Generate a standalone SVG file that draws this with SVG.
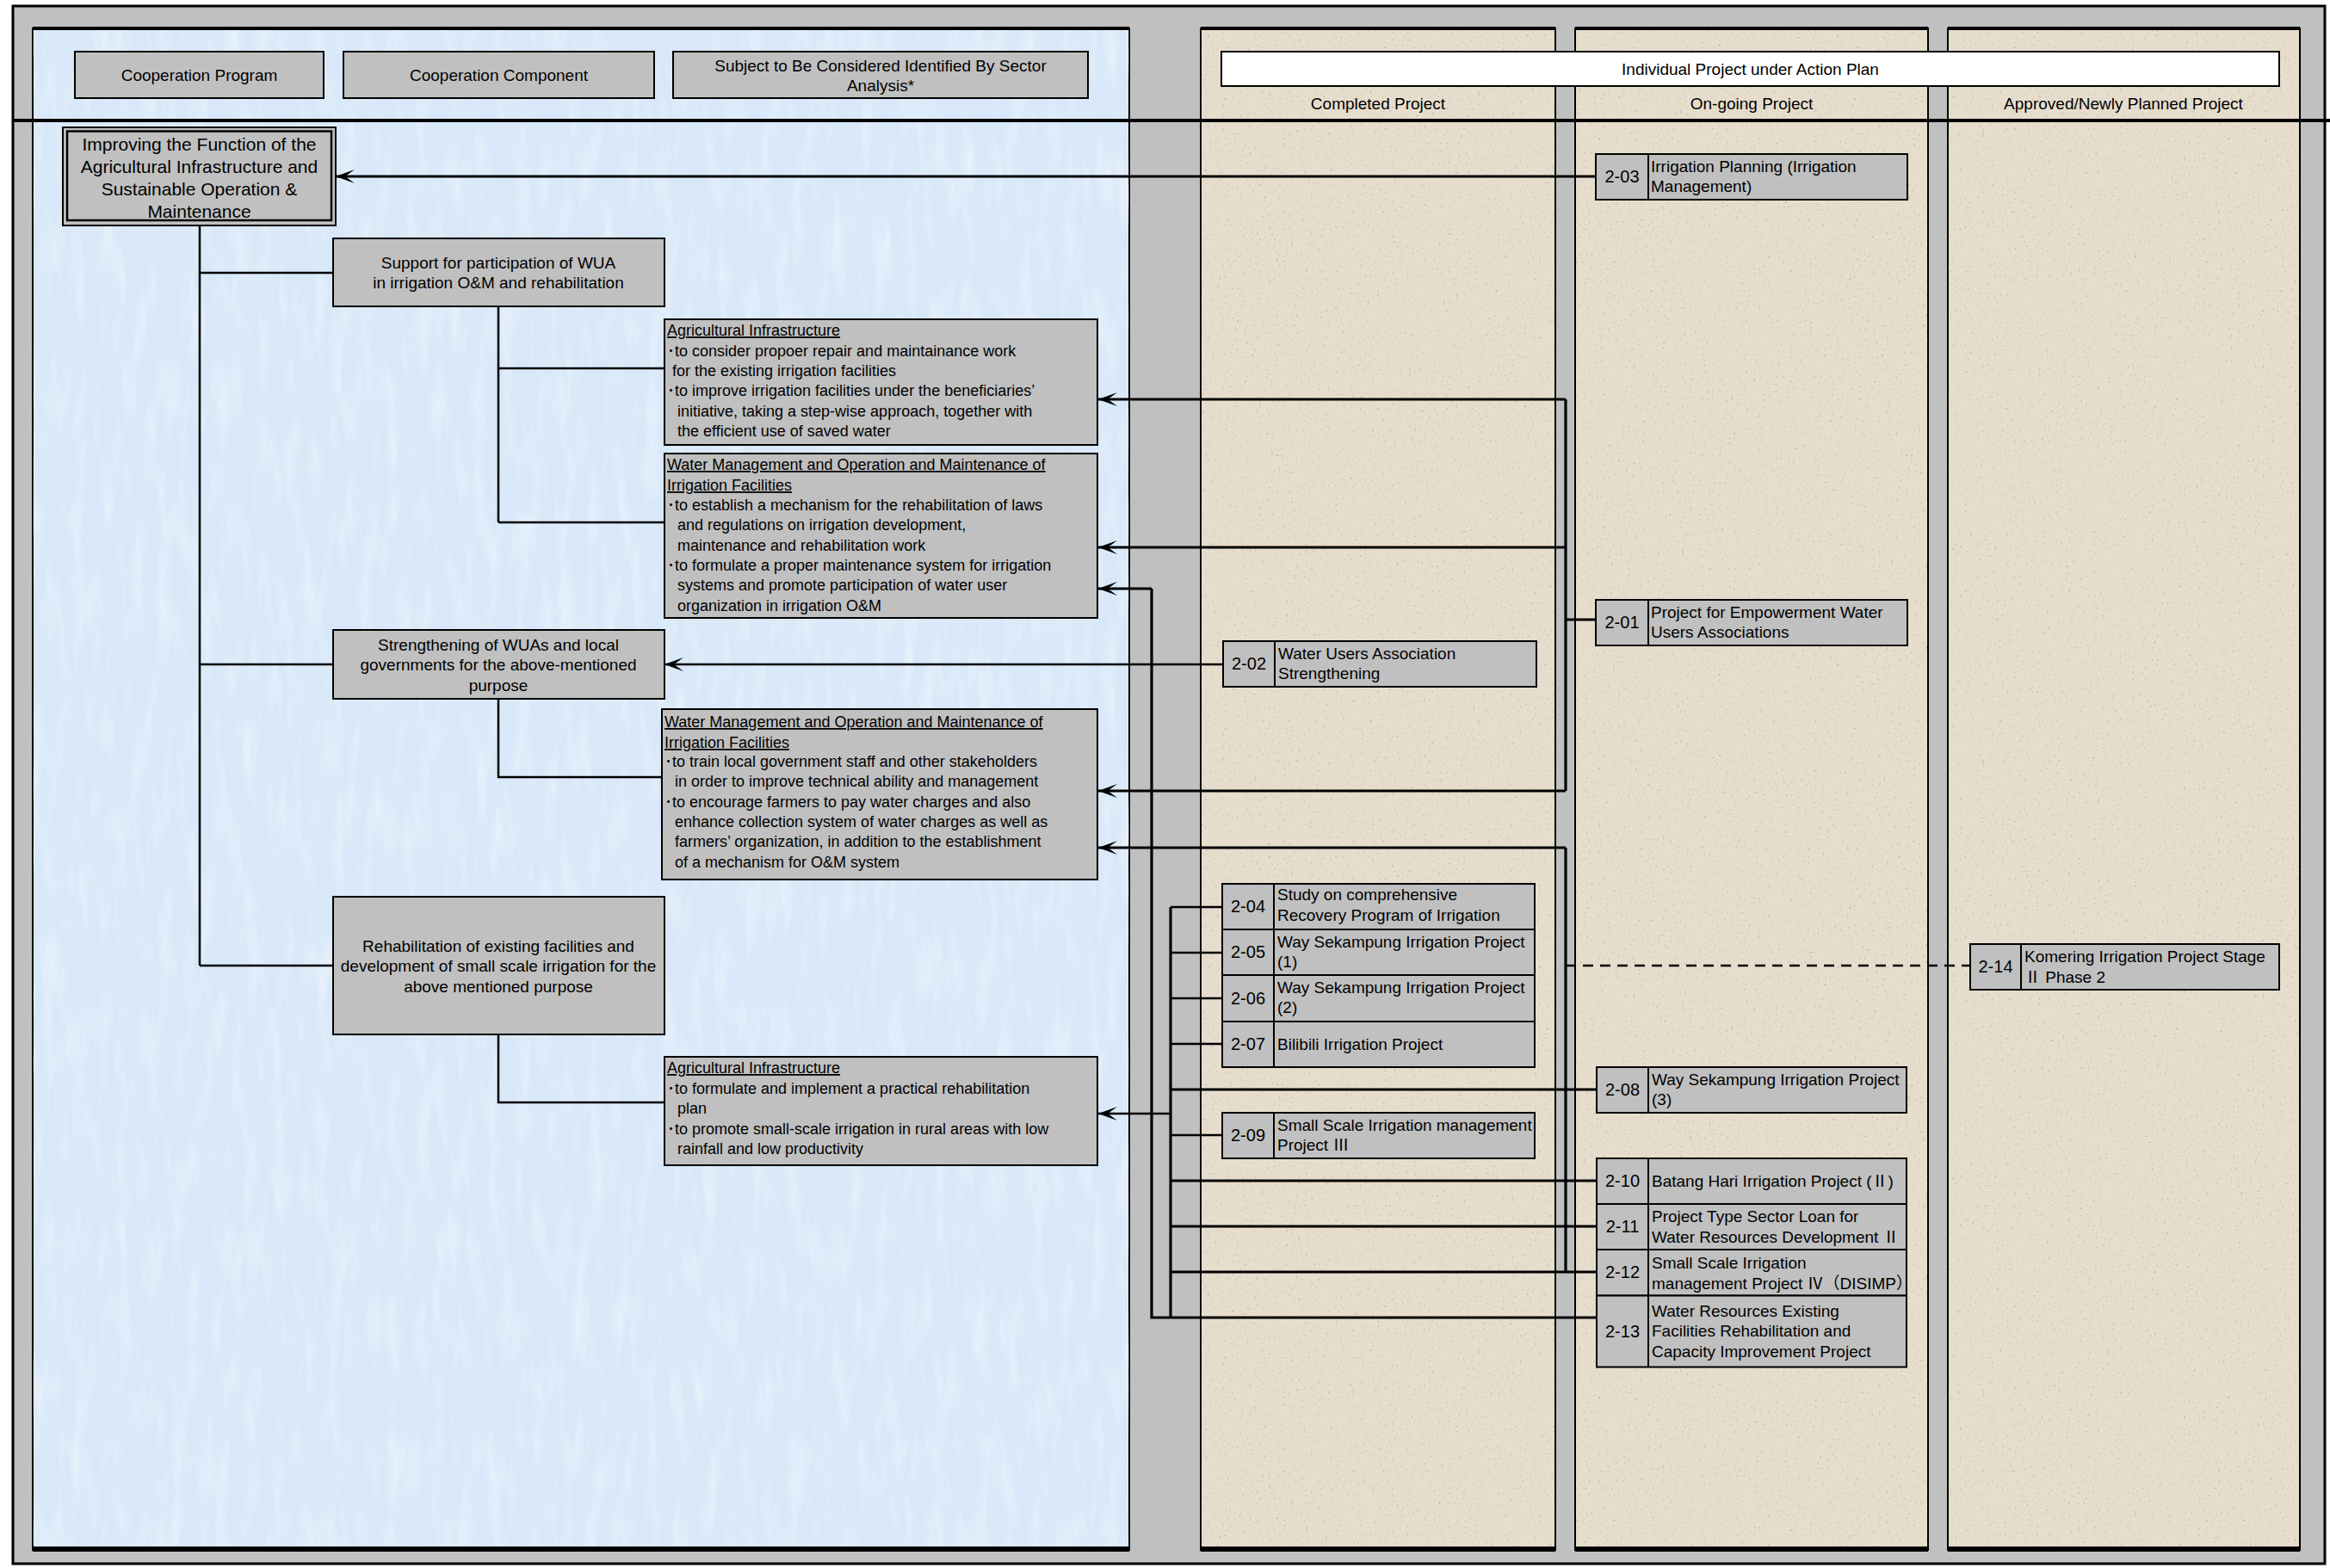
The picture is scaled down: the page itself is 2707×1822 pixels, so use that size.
<svg xmlns="http://www.w3.org/2000/svg" width="2707" height="1822" viewBox="0 0 2707 1822">
<style>
text{font-family:"Liberation Sans","Noto Sans CJK JP",sans-serif;fill:#000}
.box{fill:#c0c0c0;stroke:#000;stroke-width:2}
.hd{font-size:19px;text-anchor:middle}
.ct{font-size:19px;text-anchor:middle}
.bt{font-size:18px}
.u{text-decoration:underline}
.pn{font-size:20px;text-anchor:middle}
.pt{font-size:19px}
.thin{fill:none;stroke:#000;stroke-width:2.5}
.thick{fill:none;stroke:#000;stroke-width:3.2}
.dash{fill:none;stroke:#000;stroke-width:2.5;stroke-dasharray:12 8}
.div{stroke:#000;stroke-width:2}
</style>
<defs>
<marker id="arr" markerUnits="userSpaceOnUse" markerWidth="28" markerHeight="20" refX="24" refY="10" orient="auto">
<path d="M2,2 L24,10 L2,18 L13,10 Z" fill="#000"/>
</marker>
<filter id="noise" x="0" y="0" width="100%" height="100%" color-interpolation-filters="sRGB">
<feTurbulence type="fractalNoise" baseFrequency="0.06 0.012" numOctaves="3" seed="7"/>
<feColorMatrix type="matrix" values="0 0 0 0 1  0 0 0 0 1  0 0 0 0 1  1.6 0 0 0 -0.72"/>
</filter>
<filter id="speck" x="0" y="0" width="100%" height="100%" color-interpolation-filters="sRGB">
<feTurbulence type="fractalNoise" baseFrequency="0.35" numOctaves="2" seed="3"/>
<feColorMatrix type="matrix" values="0 0 0 0 0.45  0 0 0 0 0.4  0 0 0 0 0.35  -3 0 0 0 1.05"/>
</filter>
</defs>

<rect x="0" y="0" width="2707" height="1822" fill="#fff"/>
<rect id="frame" x="15" y="7" width="2686" height="1810" fill="#c0c0c0" stroke="#000" stroke-width="3"/>

<g id="panels">
<rect x="38" y="33" width="1274" height="1768" fill="#d8e8f8" stroke="#000" stroke-width="2"/>
<rect x="38" y="33" width="1274" height="1768" fill="#fff" filter="url(#noise)" opacity="0.55"/>
<rect x="1395" y="33" width="412" height="1768" fill="#e7ddcd" stroke="#000" stroke-width="2"/>
<rect x="1830" y="33" width="410" height="1768" fill="#e7ddcd" stroke="#000" stroke-width="2"/>
<rect x="2263" y="33" width="409" height="1768" fill="#e7ddcd" stroke="#000" stroke-width="2"/>
<rect x="1395" y="33" width="412" height="1768" fill="#fff" filter="url(#speck)" opacity="0.5"/>
<rect x="1830" y="33" width="410" height="1768" fill="#fff" filter="url(#speck)" opacity="0.5"/>
<rect x="2263" y="33" width="409" height="1768" fill="#fff" filter="url(#speck)" opacity="0.5"/>
<g fill="#000">
<rect x="38" y="31" width="1274" height="4"/>
<rect x="1395" y="31" width="412" height="4"/>
<rect x="1830" y="31" width="410" height="4"/>
<rect x="2263" y="31" width="409" height="4"/>
<rect x="38" y="1797" width="1274" height="6"/>
<rect x="1395" y="1797" width="412" height="6"/>
<rect x="1830" y="1797" width="410" height="6"/>
<rect x="2263" y="1797" width="409" height="6"/>
</g>
<line x1="15" y1="140" x2="2707" y2="140" stroke="#000" stroke-width="4"/>
</g>

<g id="headers">
<g id="h-program"><rect class="box" x="87" y="60" width="289" height="54"/><text class="hd" x="231.5" y="94">Cooperation Program</text></g>
<g id="h-component"><rect class="box" x="399" y="60" width="361" height="54"/><text class="hd" x="579.5" y="94">Cooperation Component</text></g>
<g id="h-subject"><rect class="box" x="782" y="60" width="482" height="54"/><text class="hd" x="1023" y="83">Subject to Be Considered Identified By Sector</text><text class="hd" x="1023" y="106">Analysis*</text></g>
<g id="h-individual"><rect x="1419" y="60" width="1229" height="40" fill="#fff" stroke="#000" stroke-width="2"/><text class="hd" x="2033.5" y="87">Individual Project under Action Plan</text></g>
<text class="hd" x="1601" y="127">Completed Project</text>
<text class="hd" x="2035" y="127">On-going Project</text>
<text class="hd" x="2467" y="127">Approved/Newly Planned Project</text>
</g>

<g id="connectors">
<path class="thin" d="M232,262 V1122 M232,317 H387 M232,772 H387 M232,1122 H387"/>
<path class="thin" d="M579,356 V607 M579,428 H772 M579,607 H772"/>
<path class="thin" d="M579,812 V903 H769"/>
<path class="thin" d="M579,1202 V1281 H772"/>
<path class="thick" d="M1854,205 H390" marker-end="url(#arr)"/>
<path class="thin" d="M1421,772 H772" marker-end="url(#arr)"/>
<path class="thick" d="M1854,720 H1819 M1819,464 V919"/>
<path class="thick" d="M1819,464 H1276" marker-end="url(#arr)"/>
<path class="thick" d="M1819,636 H1276" marker-end="url(#arr)"/>
<path class="thick" d="M1819,919 H1276" marker-end="url(#arr)"/>
<path class="thick" d="M1819,985 V1478"/>
<path class="thick" d="M1819,985 H1276" marker-end="url(#arr)"/>
<path class="dash" d="M1819,1122 H2289"/>
<path class="thick" d="M1338,684 V1531 H1855"/>
<path class="thick" d="M1338,684 H1276" marker-end="url(#arr)"/>
<path class="thick" d="M1360,1054 V1531"/>
<path class="thin" d="M1360,1054 H1420 M1360,1107 H1420 M1360,1160 H1420 M1360,1213 H1420 M1360,1319 H1420"/>
<path class="thick" d="M1360,1266 H1855 M1360,1372 H1855 M1360,1425 H1855 M1360,1478 H1855"/>
<path class="thin" d="M1360,1294 H1276" marker-end="url(#arr)"/>
</g>

<g id="goal">
<rect class="box" x="73" y="148" width="317" height="114"/>
<rect x="78" y="152.5" width="307" height="103.5" fill="none" stroke="#000" stroke-width="2.5"/>
<text class="ct" style="font-size:21px" x="231.5" y="175">Improving the Function of the</text>
<text class="ct" style="font-size:21px" x="231.5" y="201">Agricultural Infrastructure and</text>
<text class="ct" style="font-size:21px" x="231.5" y="227">Sustainable Operation &amp;</text>
<text class="ct" style="font-size:21px" x="231.5" y="253">Maintenance</text>
</g>

<g id="support">
<rect class="box" x="387" y="277" width="385" height="79"/>
<text class="ct" x="579" y="312">Support for participation of WUA</text>
<text class="ct" x="579" y="335">in irrigation O&amp;M and rehabilitation</text>
</g>

<g id="strengthening">
<rect class="box" x="387" y="732" width="385" height="80"/>
<text class="ct" x="579" y="756">Strengthening of WUAs and local</text>
<text class="ct" x="579" y="779">governments for the above-mentioned</text>
<text class="ct" x="579" y="803">purpose</text>
</g>

<g id="rehabilitation">
<rect class="box" x="387" y="1042" width="385" height="160"/>
<text class="ct" x="579" y="1106">Rehabilitation of existing facilities and</text>
<text class="ct" x="579" y="1129">development of small scale irrigation for the</text>
<text class="ct" x="579" y="1153">above mentioned purpose</text>
</g>

<g id="agri1">
<rect class="box" x="772" y="371" width="503" height="146"/>
<text class="bt u" x="775" y="390">Agricultural Infrastructure</text>
<text class="bt" x="775" y="414">･to consider propoer repair and maintainance work</text>
<text class="bt" x="781" y="437">for the existing irrigation facilities</text>
<text class="bt" x="775" y="460">･to improve irrigation facilities under the beneficiaries’</text>
<text class="bt" x="787" y="484">initiative, taking a step-wise approach, together with</text>
<text class="bt" x="787" y="507">the efficient use of saved water</text>
</g>

<g id="wm1">
<rect class="box" x="772" y="527" width="503" height="191"/>
<text class="bt u" x="775" y="546">Water Management and Operation and Maintenance of</text>
<text class="bt u" x="775" y="570">Irrigation Facilities</text>
<text class="bt" x="775" y="593">･to establish a mechanism for the rehabilitation of laws</text>
<text class="bt" x="787" y="616">and regulations on irrigation development,</text>
<text class="bt" x="787" y="640">maintenance and rehabilitation work</text>
<text class="bt" x="775" y="663">･to formulate a proper maintenance system for irrigation</text>
<text class="bt" x="787" y="686">systems and promote participation of  water user</text>
<text class="bt" x="787" y="710">organization in irrigation O&amp;M</text>
</g>

<g id="wm2">
<rect class="box" x="769" y="824" width="506" height="198"/>
<text class="bt u" x="772" y="845">Water Management and Operation and Maintenance of</text>
<text class="bt u" x="772" y="869">Irrigation Facilities</text>
<text class="bt" x="772" y="891">･to train local government staff and other stakeholders</text>
<text class="bt" x="784" y="914">in order to improve technical ability and management</text>
<text class="bt" x="772" y="938">･to encourage farmers to pay water charges and also</text>
<text class="bt" x="784" y="961">enhance collection system of water charges as well as</text>
<text class="bt" x="784" y="984">farmers’ organization, in addition to the establishment</text>
<text class="bt" x="784" y="1008">of  a mechanism for O&amp;M system</text>
</g>

<g id="agri2">
<rect class="box" x="772" y="1228" width="503" height="126"/>
<text class="bt u" x="775" y="1247">Agricultural Infrastructure</text>
<text class="bt" x="775" y="1271">･to formulate and implement a practical rehabilitation</text>
<text class="bt" x="787" y="1294">plan</text>
<text class="bt" x="775" y="1318">･to promote small-scale irrigation in rural areas with low</text>
<text class="bt" x="787" y="1341">rainfall and low productivity</text>
</g>

<g id="p2-03"><rect class="box" x="1854" y="179" width="362" height="53"/><line class="div" x1="1915" y1="179" x2="1915" y2="232"/><text class="pn" x="1884.5" y="212">2-03</text><text class="pt" x="1918" y="200">Irrigation Planning (Irrigation</text><text class="pt" x="1918" y="223">Management)</text></g>
<g id="p2-01"><rect class="box" x="1854" y="697" width="362" height="53"/><line class="div" x1="1915" y1="697" x2="1915" y2="750"/><text class="pn" x="1884.5" y="730">2-01</text><text class="pt" x="1918" y="718">Project for Empowerment Water</text><text class="pt" x="1918" y="741">Users Associations</text></g>
<g id="p2-02"><rect class="box" x="1421" y="745" width="364" height="53"/><line class="div" x1="1481" y1="745" x2="1481" y2="798"/><text class="pn" x="1451" y="778">2-02</text><text class="pt" x="1485" y="766">Water Users Association</text><text class="pt" x="1485" y="789">Strengthening</text></g>
<g id="p2-04"><rect class="box" x="1420" y="1027" width="363" height="53"/><line class="div" x1="1480" y1="1027" x2="1480" y2="1080"/><text class="pn" x="1450" y="1060">2-04</text><text class="pt" x="1484" y="1046">Study on comprehensive</text><text class="pt" x="1484" y="1070">Recovery Program of Irrigation</text></g>
<g id="p2-05"><rect class="box" x="1420" y="1080" width="363" height="53"/><line class="div" x1="1480" y1="1080" x2="1480" y2="1133"/><text class="pn" x="1450" y="1113">2-05</text><text class="pt" x="1484" y="1101">Way Sekampung Irrigation Project</text><text class="pt" x="1484" y="1124">(1)</text></g>
<g id="p2-06"><rect class="box" x="1420" y="1133" width="363" height="54"/><line class="div" x1="1480" y1="1133" x2="1480" y2="1187"/><text class="pn" x="1450" y="1167">2-06</text><text class="pt" x="1484" y="1154">Way Sekampung Irrigation Project</text><text class="pt" x="1484" y="1177">(2)</text></g>
<g id="p2-07"><rect class="box" x="1420" y="1187" width="363" height="53"/><line class="div" x1="1480" y1="1187" x2="1480" y2="1240"/><text class="pn" x="1450" y="1220">2-07</text><text class="pt" x="1484" y="1220">Bilibili Irrigation Project</text></g>
<g id="p2-09"><rect class="box" x="1420" y="1293" width="363" height="53"/><line class="div" x1="1480" y1="1293" x2="1480" y2="1346"/><text class="pn" x="1450" y="1326">2-09</text><text class="pt" x="1484" y="1314">Small Scale Irrigation management</text><text class="pt" x="1484" y="1337">Project Ⅲ</text></g>
<g id="p2-08"><rect class="box" x="1855" y="1240" width="360" height="53"/><line class="div" x1="1915" y1="1240" x2="1915" y2="1293"/><text class="pn" x="1885" y="1273">2-08</text><text class="pt" x="1919" y="1261">Way Sekampung Irrigation Project</text><text class="pt" x="1919" y="1284">(3)</text></g>
<g id="p2-10"><rect class="box" x="1855" y="1346" width="360" height="53"/><line class="div" x1="1915" y1="1346" x2="1915" y2="1399"/><text class="pn" x="1885" y="1379">2-10</text><text class="pt" x="1919" y="1379">Batang Hari Irrigation Project (Ⅱ)</text></g>
<g id="p2-11"><rect class="box" x="1855" y="1399" width="360" height="53"/><line class="div" x1="1915" y1="1399" x2="1915" y2="1452"/><text class="pn" x="1885" y="1432">2-11</text><text class="pt" x="1919" y="1420">Project Type Sector Loan for</text><text class="pt" x="1919" y="1444">Water Resources Development Ⅱ</text></g>
<g id="p2-12"><rect class="box" x="1855" y="1452" width="360" height="53.5"/><line class="div" x1="1915" y1="1452" x2="1915" y2="1505.5"/><text class="pn" x="1885" y="1485">2-12</text><text class="pt" x="1919" y="1474">Small Scale Irrigation</text><text class="pt" x="1919" y="1498">management Project Ⅳ（DISIMP）</text></g>
<g id="p2-13"><rect class="box" x="1855" y="1505.5" width="360" height="83"/><line class="div" x1="1915" y1="1505.5" x2="1915" y2="1588.5"/><text class="pn" x="1885" y="1554">2-13</text><text class="pt" x="1919" y="1530">Water Resources Existing</text><text class="pt" x="1919" y="1553">Facilities Rehabilitation and</text><text class="pt" x="1919" y="1577">Capacity Improvement Project</text></g>
<g id="p2-14"><rect class="box" x="2289" y="1097" width="359" height="53"/><line class="div" x1="2348" y1="1097" x2="2348" y2="1150"/><text class="pn" x="2318.5" y="1130">2-14</text><text class="pt" x="2352" y="1118">Komering Irrigation Project Stage</text><text class="pt" x="2352" y="1142">Ⅱ Phase 2</text></g>
</svg>
